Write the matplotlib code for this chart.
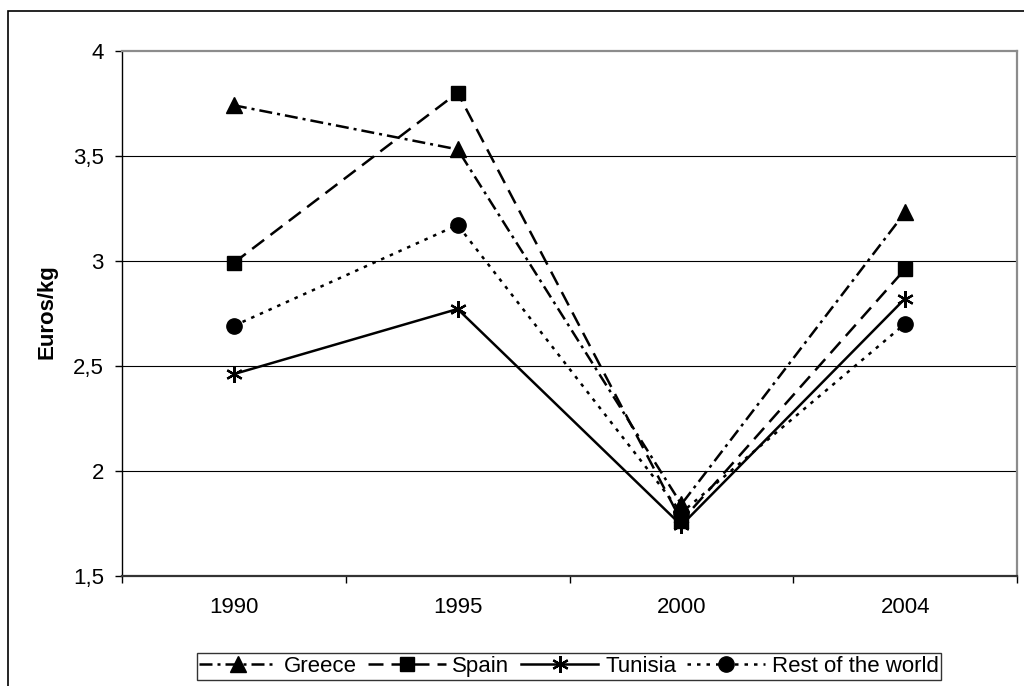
import matplotlib
matplotlib.use("Agg")
import matplotlib.pyplot as plt
from matplotlib.patches import Rectangle
from matplotlib.ticker import FixedLocator, FuncFormatter

plt.rcParams['font.family'] = ['Liberation Sans', 'DejaVu Sans']

years = ["1990", "1995", "2000", "2004"]
greece = [3.74, 3.53, 1.84, 3.23]
spain = [2.99, 3.80, 1.76, 2.96]
tunisia = [2.46, 2.77, 1.74, 2.82]
rest = [2.69, 3.17, 1.80, 2.70]
series_names = ["Greece", "Spain", "Tunisia", "Rest of the world"]
y_ticks = [1.5, 2.0, 2.5, 3.0, 3.5, 4.0]

fs = 16
fig = plt.figure(figsize=(10.24, 6.86), dpi=100)
L, R, T, B = 122/1024, 1017/1024, 1-50.7/686, 1-575.7/686
ax = fig.add_axes([L, B, R-L, T-B])

x = list(range(len(years)))
lw = 1.8
ms = 11
ax.plot(x, greece, color='black', lw=lw, linestyle=(0, (5.2, 2, 1.2, 2)),
        marker='^', ms=ms, label=series_names[0], zorder=3)
ax.plot(x, spain, color='black', lw=lw, linestyle=(0, (6, 3.2)),
        marker='s', ms=ms-1, label=series_names[1], zorder=3)
ax.plot(x, tunisia, color='black', lw=lw, linestyle='-',
        marker=(6, 2, 0), ms=ms+1, mew=1.6, label=series_names[2], zorder=3)
ax.plot(x, rest, color='black', lw=lw, linestyle=(0, (1.4, 2.4)),
        marker='o', ms=ms, label=series_names[3], zorder=3)

ax.set_xlim(-0.5, len(years)-0.5)
ax.set_ylim(1.5, 4.0)

# x ticks: boundaries (major, no labels), centers (minor, labels)
ax.xaxis.set_major_locator(FixedLocator([i-0.5 for i in range(len(years)+1)]))
ax.xaxis.set_major_formatter(FuncFormatter(lambda v, p: ""))
ax.set_xticks(x, years, minor=True)
ax.tick_params(axis='x', which='major', direction='out', length=5, width=1, color='black')
ax.tick_params(axis='x', which='minor', length=0, pad=15, labelsize=fs)

ax.set_yticks(y_ticks)
ax.yaxis.set_major_formatter(FuncFormatter(lambda v, p: ("%g" % v).replace('.', ',')))
ax.tick_params(axis='y', direction='out', length=5, width=1, pad=8, labelsize=fs, color='black')

for yv in y_ticks[1:-1]:
    ax.axhline(yv, color='black', lw=0.8, zorder=1)

ax.spines['left'].set_color('black')
ax.spines['left'].set_linewidth(1)
ax.spines['bottom'].set_color('#333333')
ax.spines['bottom'].set_linewidth(1.6)
ax.spines['top'].set_color('#8c8c8c')
ax.spines['top'].set_linewidth(1.6)
ax.spines['right'].set_color('#8c8c8c')
ax.spines['right'].set_linewidth(1.6)

fig.text(47/1024, 1-312/686, "Euros/kg", rotation=90, ha='center', va='center',
         fontsize=fs, fontweight='bold')

leg = fig.legend(loc='center', bbox_to_anchor=(569/1024, 1-666.5/686), ncol=4,
                 fontsize=fs, frameon=True, fancybox=False, shadow=False,
                 handlelength=3.5, handletextpad=0.3, columnspacing=0.5,
                 borderpad=0.12, borderaxespad=0)
leg.get_frame().set_edgecolor('black')
leg.get_frame().set_linewidth(1)

fig.patches.append(Rectangle((8/1024, -0.1), 1.2, 1.1-11/686, transform=fig.transFigure,
                             fill=False, edgecolor='black', lw=1.2, figure=fig))

fig.savefig("out.png", dpi=100)
